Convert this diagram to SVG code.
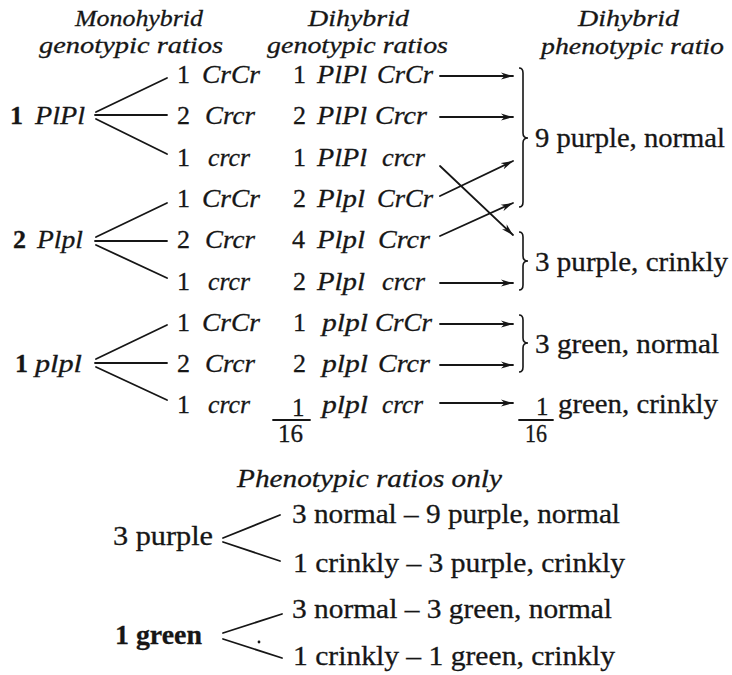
<svg xmlns="http://www.w3.org/2000/svg" width="732" height="675" viewBox="0 0 732 675">
<defs>
<style>
text{font-family:"Liberation Serif","DejaVu Serif",serif;fill:#161616;stroke:#161616;stroke-width:0.3}
.it{font-style:italic;font-size:26px}
.hd{font-style:italic;font-size:24px}
.rm{font-size:28px}
.up{font-style:normal}
.b{font-weight:bold}
.fr{font-size:25px}
.ln{stroke:#161616;stroke-width:1.8;fill:none;stroke-linecap:round}
.br{stroke:#161616;stroke-width:1.6;fill:none}
.ar{marker-end:url(#ah)}
</style>
<marker id="ah" markerWidth="13" markerHeight="8" refX="12" refY="4" orient="auto" markerUnits="userSpaceOnUse">
<path d="M0,0.5 L12,4 L0,7.5 L3.5,4 Z" fill="#161616"/>
</marker>
</defs>
<rect width="732" height="675" fill="#ffffff"/>

<g id="headers">
<text class="hd" x="75" y="26" textLength="128" lengthAdjust="spacingAndGlyphs">Monohybrid</text>
<text class="hd" x="39" y="53" textLength="184" lengthAdjust="spacingAndGlyphs">genotypic ratios</text>
<text class="hd" x="308" y="26" textLength="101" lengthAdjust="spacingAndGlyphs">Dihybrid</text>
<text class="hd" x="267" y="53" textLength="181" lengthAdjust="spacingAndGlyphs">genotypic ratios</text>
<text class="hd" x="578" y="26" textLength="101" lengthAdjust="spacingAndGlyphs">Dihybrid</text>
<text class="hd" x="541" y="54" textLength="183" lengthAdjust="spacingAndGlyphs">phenotypic ratio</text>
</g>

<g id="mono-PlPl"><text class="it" y="124"><tspan class="up b" x="10">1</tspan> <tspan x="35" textLength="50" lengthAdjust="spacingAndGlyphs">PlPl</tspan></text></g>
<g id="mono-Plpl"><text class="it" y="248"><tspan class="up b" x="13">2</tspan> <tspan x="37" textLength="46" lengthAdjust="spacingAndGlyphs">Plpl</tspan></text></g>
<g id="mono-plpl"><text class="it" y="372"><tspan class="up b" x="15">1</tspan> <tspan x="35" textLength="47" lengthAdjust="spacingAndGlyphs">plpl</tspan></text></g>

<g id="mono-cr-1">
<text class="it" y="83"><tspan class="up" x="177">1</tspan> <tspan x="202" textLength="58" lengthAdjust="spacingAndGlyphs">CrCr</tspan></text>
<text class="it" y="124"><tspan class="up" x="177">2</tspan> <tspan x="205" textLength="50" lengthAdjust="spacingAndGlyphs">Crcr</tspan></text>
<text class="it" y="166"><tspan class="up" x="177">1</tspan> <tspan x="208" textLength="42" lengthAdjust="spacingAndGlyphs">crcr</tspan></text>
</g>
<g id="mono-cr-2">
<text class="it" y="207"><tspan class="up" x="177">1</tspan> <tspan x="202" textLength="58" lengthAdjust="spacingAndGlyphs">CrCr</tspan></text>
<text class="it" y="248"><tspan class="up" x="177">2</tspan> <tspan x="205" textLength="50" lengthAdjust="spacingAndGlyphs">Crcr</tspan></text>
<text class="it" y="290"><tspan class="up" x="177">1</tspan> <tspan x="208" textLength="42" lengthAdjust="spacingAndGlyphs">crcr</tspan></text>
</g>
<g id="mono-cr-3">
<text class="it" y="331"><tspan class="up" x="177">1</tspan> <tspan x="202" textLength="58" lengthAdjust="spacingAndGlyphs">CrCr</tspan></text>
<text class="it" y="372"><tspan class="up" x="177">2</tspan> <tspan x="205" textLength="50" lengthAdjust="spacingAndGlyphs">Crcr</tspan></text>
<text class="it" y="413"><tspan class="up" x="177">1</tspan> <tspan x="208" textLength="42" lengthAdjust="spacingAndGlyphs">crcr</tspan></text>
</g>

<g id="dihybrid-genotypes">
<g id="g1"><text class="it" y="83"><tspan class="up" x="293">1</tspan> <tspan x="317" textLength="50" lengthAdjust="spacingAndGlyphs">PlPl</tspan> <tspan x="377" textLength="56" lengthAdjust="spacingAndGlyphs">CrCr</tspan></text></g>
<g id="g2"><text class="it" y="124"><tspan class="up" x="293">2</tspan> <tspan x="317" textLength="50" lengthAdjust="spacingAndGlyphs">PlPl</tspan> <tspan x="375" textLength="52" lengthAdjust="spacingAndGlyphs">Crcr</tspan></text></g>
<g id="g3"><text class="it" y="166"><tspan class="up" x="293">1</tspan> <tspan x="317" textLength="50" lengthAdjust="spacingAndGlyphs">PlPl</tspan> <tspan x="382" textLength="43" lengthAdjust="spacingAndGlyphs">crcr</tspan></text></g>
<g id="g4"><text class="it" y="207"><tspan class="up" x="293">2</tspan> <tspan x="317" textLength="48" lengthAdjust="spacingAndGlyphs">Plpl</tspan> <tspan x="377" textLength="56" lengthAdjust="spacingAndGlyphs">CrCr</tspan></text></g>
<g id="g5"><text class="it" y="248"><tspan class="up" x="292">4</tspan> <tspan x="317" textLength="48" lengthAdjust="spacingAndGlyphs">Plpl</tspan> <tspan x="378" textLength="52" lengthAdjust="spacingAndGlyphs">Crcr</tspan></text></g>
<g id="g6"><text class="it" y="290"><tspan class="up" x="293">2</tspan> <tspan x="317" textLength="48" lengthAdjust="spacingAndGlyphs">Plpl</tspan> <tspan x="382" textLength="43" lengthAdjust="spacingAndGlyphs">crcr</tspan></text></g>
<g id="g7"><text class="it" y="331"><tspan class="up" x="293">1</tspan> <tspan x="322" textLength="46" lengthAdjust="spacingAndGlyphs">plpl</tspan> <tspan x="375" textLength="57" lengthAdjust="spacingAndGlyphs">CrCr</tspan></text></g>
<g id="g8"><text class="it" y="372"><tspan class="up" x="293">2</tspan> <tspan x="322" textLength="46" lengthAdjust="spacingAndGlyphs">plpl</tspan> <tspan x="378" textLength="52" lengthAdjust="spacingAndGlyphs">Crcr</tspan></text></g>
<g id="g9">
<text class="it" y="413"><tspan class="up fr" x="292" y="416">1</tspan> <tspan x="322" y="413" textLength="46" lengthAdjust="spacingAndGlyphs">plpl</tspan> <tspan x="382" textLength="41" lengthAdjust="spacingAndGlyphs">crcr</tspan></text>
<line class="ln" x1="273" y1="420" x2="310" y2="420" stroke-width="1.6"/>
<text class="fr" x="278" y="442" textLength="25" lengthAdjust="spacingAndGlyphs">16</text>
</g>
</g>

<g id="phenotypes">
<g id="p1"><text class="rm" x="535" y="147" textLength="190" lengthAdjust="spacingAndGlyphs">9 purple, normal</text></g>
<g id="p2"><text class="rm" x="535" y="271" textLength="193" lengthAdjust="spacingAndGlyphs">3 purple, crinkly</text></g>
<g id="p3"><text class="rm" x="535" y="353" textLength="184" lengthAdjust="spacingAndGlyphs">3 green, normal</text></g>
<g id="p4">
<text class="rm" y="413"><tspan class="fr" x="536" y="415">1</tspan> <tspan x="558" y="413" textLength="160" lengthAdjust="spacingAndGlyphs">green, crinkly</tspan></text>
<line class="ln" x1="519" y1="420" x2="553" y2="420" stroke-width="1.6"/>
<text class="fr" x="525" y="442" textLength="22" lengthAdjust="spacingAndGlyphs">16</text>
</g>
</g>

<g id="braces">
<path class="br" d="M519,68 Q523,68 523,73 L523,133 Q523,138 528,138 Q523,138 523,143 L523,202 Q523,207 519,207"/>
<path class="br" d="M519,232 Q523,232 523,237 L523,256 Q523,261 528,261 Q523,261 523,266 L523,285 Q523,290 519,290"/>
<path class="br" d="M519,315 Q523,315 523,320 L523,338 Q523,343 528,343 Q523,343 523,348 L523,367 Q523,372 519,372"/>
</g>

<g id="connectors">
<line class="ln" x1="96" y1="112" x2="167" y2="78"/>
<line class="ln" x1="95" y1="115" x2="167" y2="115"/>
<line class="ln" x1="96" y1="119" x2="167" y2="154"/>
<line class="ln" x1="96" y1="237" x2="167" y2="203"/>
<line class="ln" x1="95" y1="241" x2="167" y2="241"/>
<line class="ln" x1="96" y1="245" x2="167" y2="278"/>
<line class="ln" x1="96" y1="359" x2="167" y2="325"/>
<line class="ln" x1="95" y1="363" x2="167" y2="363"/>
<line class="ln" x1="96" y1="367" x2="167" y2="400"/>
<line class="ln ar" x1="440" y1="76" x2="513" y2="76"/>
<line class="ln ar" x1="440" y1="117" x2="513" y2="117"/>
<line class="ln ar" x1="440" y1="166" x2="513" y2="235"/>
<line class="ln ar" x1="440" y1="196" x2="513" y2="161"/>
<line class="ln ar" x1="440" y1="236" x2="513" y2="203"/>
<line class="ln ar" x1="440" y1="283" x2="513" y2="283"/>
<line class="ln ar" x1="440" y1="324" x2="513" y2="324"/>
<line class="ln ar" x1="440" y1="365" x2="513" y2="365"/>
<line class="ln ar" x1="440" y1="403" x2="513" y2="403"/>
<line class="ln" x1="223" y1="538" x2="280" y2="515"/>
<line class="ln" x1="223" y1="542" x2="280" y2="561"/>
<line class="ln" x1="223" y1="633" x2="282" y2="614"/>
<line class="ln" x1="223" y1="639" x2="282" y2="658"/>
</g>

<g id="phenotypic-only">
<text class="it" x="237" y="487" textLength="265" lengthAdjust="spacingAndGlyphs">Phenotypic ratios only</text>
<g id="purple3"><text class="rm" x="113" y="545" textLength="100" lengthAdjust="spacingAndGlyphs">3 purple</text></g>
<g id="green1"><text class="rm b" x="115" y="644" textLength="87" lengthAdjust="spacingAndGlyphs">1 green</text></g>
<g id="b1"><text class="rm" x="292" y="523" textLength="328" lengthAdjust="spacingAndGlyphs">3 normal – 9 purple, normal</text></g>
<g id="b2"><text class="rm" x="293" y="572" textLength="332" lengthAdjust="spacingAndGlyphs">1 crinkly – 3 purple, crinkly</text></g>
<g id="b3"><text class="rm" x="292" y="618" textLength="320" lengthAdjust="spacingAndGlyphs">3 normal – 3 green, normal</text></g>
<g id="b4"><text class="rm" x="293" y="665" textLength="322" lengthAdjust="spacingAndGlyphs">1 crinkly – 1 green, crinkly</text></g>
<circle cx="259" cy="642" r="1.4" fill="#161616"/>
</g>
</svg>
